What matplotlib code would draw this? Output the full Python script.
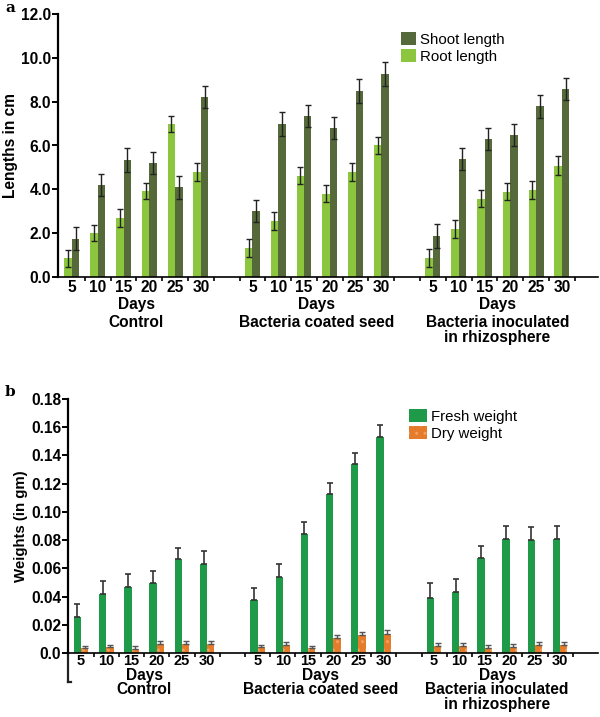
import numpy as np
import matplotlib
matplotlib.use('Agg')
import matplotlib.pyplot as plt

plt.rcParams['font.family'] = ['Liberation Sans', 'DejaVu Sans']

days = ['5', '10', '15', '20', '25', '30']
groups = ['Control', 'Bacteria coated seed', 'Bacteria inoculated\nin rhizosphere']

# panel a: lengths (cm), order control / coated / inoculated
root_len = [0.85, 2.0, 2.7, 3.92, 6.98, 4.8,
            1.33, 2.55, 4.63, 3.8, 4.8, 6.0,
            0.87, 2.18, 3.58, 3.9, 3.97, 5.08]
root_err = [0.4, 0.38, 0.4, 0.36, 0.38, 0.4,
            0.4, 0.4, 0.4, 0.4, 0.4, 0.4,
            0.4, 0.4, 0.4, 0.38, 0.4, 0.42]
shoot_len = [1.74, 4.2, 5.33, 5.2, 4.1, 8.2,
             3.0, 6.98, 7.34, 6.8, 8.48, 9.26,
             1.88, 5.4, 6.28, 6.48, 7.78, 8.58]
shoot_err = [0.52, 0.52, 0.55, 0.52, 0.53, 0.5,
             0.5, 0.55, 0.5, 0.5, 0.55, 0.55,
             0.55, 0.5, 0.5, 0.5, 0.52, 0.52]

# panel b: weights (gm)
fresh_wt = [0.0256, 0.0418, 0.0465, 0.0497, 0.0663, 0.0628,
            0.0374, 0.0538, 0.084, 0.1127, 0.1336, 0.1528,
            0.0388, 0.0431, 0.067, 0.0805, 0.0798, 0.0805]
fresh_err = [0.0094, 0.009, 0.0094, 0.0083, 0.0078, 0.0092,
             0.009, 0.0092, 0.0088, 0.0081, 0.0084, 0.0085,
             0.0105, 0.009, 0.0086, 0.0095, 0.0095, 0.0095]
dry_wt = [0.0036, 0.0043, 0.003, 0.0064, 0.0064, 0.0064,
          0.004, 0.006, 0.0033, 0.0107, 0.0126, 0.0137,
          0.0052, 0.0052, 0.0038, 0.0045, 0.006, 0.006]
dry_err = [0.0016, 0.0016, 0.0018, 0.0022, 0.0022, 0.0022,
           0.0018, 0.002, 0.0018, 0.0023, 0.0023, 0.0023,
           0.0018, 0.0018, 0.0016, 0.0016, 0.0018, 0.0018]

# slot positions: 6 per group, one empty slot between groups
pos = np.array([g * 7 + i for g in range(3) for i in range(6)], dtype=float)
centers = [2.5, 9.5, 16.5]

c_shoot = '#56693a'
c_root = '#8cc63e'
c_fresh = '#1e9a48'
c_dry = '#e57c2c'

fig = plt.figure(figsize=(6.0, 7.17), dpi=100)
axa = fig.add_axes([58/600, 1-277/717, 540/600, 263/717])
axb = fig.add_axes([68/600, 1-653/717, 530/600, 254/717])

fs = 11.2
w = 0.29
for ax, xfs, xpad in ((axa, fs, 2), (axb, 10.5, 1)):
    for s in ['top', 'right']:
        ax.spines[s].set_visible(False)
    ax.spines['left'].set_linewidth(1.6)
    ax.spines['bottom'].set_linewidth(1.2)
    ax.tick_params(axis='y', direction='out', length=4, width=1.4, labelsize=fs, pad=1)
    ax.set_xticks(pos)
    ax.set_xticklabels(days * 3, fontsize=xfs, fontweight='bold')
    ax.tick_params(axis='x', which='major', length=0, pad=xpad)
    ax.set_xticks(np.arange(0.5, 20.5, 1.0), minor=True)
    ax.tick_params(axis='x', which='minor', direction='out', length=3, width=1.2)

# ---- panel a
axa.bar(pos - w/2, root_len, w, color=c_root, yerr=root_err,
        error_kw=dict(ecolor='#222222', elinewidth=1, capsize=2.5, capthick=1), label='Root length')
axa.bar(pos + w/2, shoot_len, w, color=c_shoot, yerr=shoot_err,
        error_kw=dict(ecolor='#222222', elinewidth=1, capsize=2.5, capthick=1), label='Shoot length')
axa.set_xlim(-0.54, 20.4)
axa.set_ylim(0, 12)
axa.set_yticks(np.arange(0, 12.1, 2))
axa.set_yticklabels(['%.1f' % v for v in np.arange(0, 12.1, 2)], fontweight='bold')
axa.set_ylabel('Lengths in cm', fontsize=fs, fontweight='bold', labelpad=2)
h, l = axa.get_legend_handles_labels()
axa.legend(h[::-1], l[::-1], loc='upper left', bbox_to_anchor=(0.624, 0.955), frameon=False,
           fontsize=10.8, handlelength=1.0, handleheight=1.0, handletextpad=0.25, labelspacing=0.15,
           borderaxespad=0)
for c, g in zip(centers, groups):
    axa.text(c, -0.92, 'Days', ha='center', va='top', fontsize=fs, fontweight='bold')
    axa.text(c, -1.72, g, ha='center', va='top', fontsize=fs, fontweight='bold', linespacing=1.0)

# ---- panel b
axb.bar(pos - w/2, fresh_wt, w, color=c_fresh, yerr=[np.zeros(18), fresh_err],
        error_kw=dict(ecolor='#333333', elinewidth=1.2, capsize=2.5, capthick=1.2), label='Fresh weight')
axb.bar(pos + w/2, dry_wt, w, color=c_dry, yerr=[np.zeros(18), dry_err], hatch='..',
        edgecolor='#f0a060', linewidth=0,
        error_kw=dict(ecolor='#555555', elinewidth=1, capsize=2.5, capthick=1), label='Dry weight')
axb.set_xlim(-0.52, 20.5)
axb.set_ylim(0, 0.18)
yt = np.arange(0, 0.181, 0.02)
axb.set_yticks(yt)
axb.set_yticklabels(['0.0'] + ['%.2f' % v for v in yt[1:]], fontweight='bold')
axb.set_ylabel('Weights (in gm)', fontsize=10.8, fontweight='bold', labelpad=2)
axb.legend(loc='upper left', bbox_to_anchor=(0.633, 0.985), frameon=False,
           fontsize=10.8, handlelength=1.2, handleheight=1.0, handletextpad=0.25, labelspacing=0.15,
           borderaxespad=0)
# bracket-like extension of the left spine below zero
x0 = axb.get_xlim()[0]
axb.plot([x0, x0], [0, -0.0205], color='#222222', lw=1.6, clip_on=False)
axb.plot([x0, x0 + 0.1], [-0.0205, -0.0205], color='#222222', lw=1.6, clip_on=False)
for c, g in zip(centers, groups):
    axb.text(c, -0.0106, 'Days', ha='center', va='top', fontsize=fs, fontweight='bold')
    axb.text(c, -0.0208, g, ha='center', va='top', fontsize=fs, fontweight='bold', linespacing=1.0)

fig.text(5/600, 1-8/717, 'a', fontsize=11, fontweight='bold', family='DejaVu Serif', va='center')
fig.text(5/600, 1-392/717, 'b', fontsize=11, fontweight='bold', family='DejaVu Serif', va='center')

fig.savefig('out.png', dpi=100)
